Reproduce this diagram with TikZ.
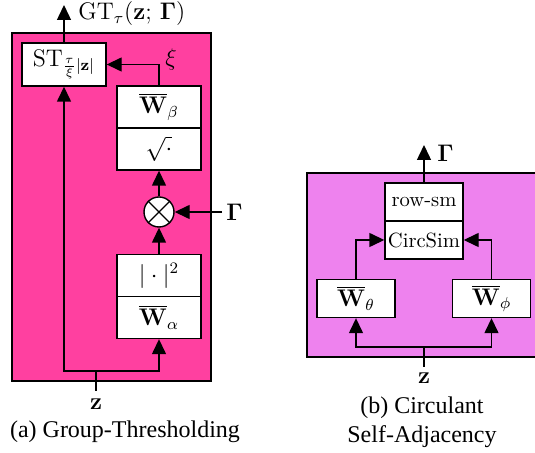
\documentclass[tikz,border=0pt]{standalone}
\usepackage[no-math]{fontspec}
\newfontfamily\capfont{Liberation Serif}
\usetikzlibrary{arrows.meta}
\definecolor{panelA}{RGB}{255,64,160}
\definecolor{panelB}{RGB}{238,130,238}
\begin{document}
\begin{tikzpicture}[x=0.5pt,y=-0.5pt,
  lw/.style={line width=0.7pt},
  mfont/.style={font=\fontsize{11.5}{13}\selectfont},
  blk/.style={draw,lw,fill=white,minimum width=42pt,minimum height=21pt,inner sep=0pt,mfont},
  blkb/.style={draw,lw,fill=white,minimum width=39pt,minimum height=19pt,inner sep=0pt,mfont},
  tblk/.style={blkb,font=\fontsize{10.3}{12}\selectfont},
  conn/.style={lw,-{Triangle[length=7.5pt,width=7pt]}},
  wire/.style={lw},
  captext/.style={font=\capfont\fontsize{12}{14.5}\selectfont,align=center,inner sep=0pt}]
\useasboundingbox (0,0) rectangle (535,453);
% panel (a)
\draw[lw,fill=panelA] (12,33) rectangle (211,381);
\node[blk,minimum height=21.5pt] (st) at (64,64.5) {$\mathrm{ST}_{\frac{\tau}{\xi}|\mathbf{z}|}$};
\node[blk] (wb) at (159,107) {$\overline{\mathbf{W}}_\beta$};
\node[blk] (sq) at (159,149) {$\sqrt{\cdot}$};
\node[draw,lw,fill=white,circle,minimum size=15pt,inner sep=0pt] (mul) at (159,212) {};
\draw[lw] (mul.north east) -- (mul.south west) (mul.north west) -- (mul.south east);
\node[blk] (ab) at (159,275.5) {$|\cdot|^2$};
\node[blk] (wa) at (159,317.5) {$\overline{\mathbf{W}}_\alpha$};
\coordinate (gtend) at (64,5);
\coordinate (gin) at (222,212);
\coordinate (zin) at (96,391);
\coordinate (zj) at (96,371);
\coordinate (bl) at (64,371);
\coordinate (br) at (159,371);
\draw[conn] (st.north) -- (gtend);
\node[anchor=west,inner sep=0pt,mfont] (gtl) at (78,14) {$\mathrm{GT}_\tau(\mathbf{z};\,\mathbf{\Gamma})$};
\draw[conn] (wb.north) |- (st.east);
\node[mfont] (xil) at (171,60) {$\xi$};
\draw[conn] (mul.north) -- (sq.south);
\draw[conn] (gin) -- (mul.east);
\node[anchor=west,inner sep=0pt,mfont] (gl) at (226,212) {$\mathbf{\Gamma}$};
\draw[conn] (ab.north) -- (mul.south);
\draw[wire] (zin) -- (zj);
\draw[conn] (zj) -- (bl) -- (st.south);
\draw[conn] (zj) -- (br) -- (wa.south);
\node[mfont] (zl) at (96,404) {$\mathbf{z}$};
\node[captext] (capa) at (125,432) {(a) Group-Thresholding};
% panel (b)
\draw[lw,fill=panelB] (307,173) rectangle (545,357);
\node[tblk] (rs) at (424,202) {row-sm};
\node[tblk] (cs) at (424,240) {CircSim};
\node[blkb] (wt) at (356,298.5) {$\overline{\mathbf{W}}_\theta$};
\node[blkb] (wp) at (491.5,298.5) {$\overline{\mathbf{W}}_\phi$};
\coordinate (gend) at (424,145);
\coordinate (zin2) at (424,367);
\coordinate (zj2) at (424,347);
\coordinate (bl2) at (356,347);
\coordinate (br2) at (491.5,347);
\draw[conn] (rs.north) -- (gend);
\node[anchor=west,inner sep=0pt,mfont] (gl2) at (437,153) {$\mathbf{\Gamma}$};
\draw[conn] (wt.north) |- (cs.west);
\draw[conn] (wp.north) |- (cs.east);
\draw[wire] (zin2) -- (zj2);
\draw[conn] (zj2) -- (bl2) -- (wt.south);
\draw[conn] (zj2) -- (br2) -- (wp.south);
\node[mfont] (zl2) at (424,378) {$\mathbf{z}$};
\node[captext] (capb) at (422,422) {(b) Circulant\\Self-Adjacency};
\end{tikzpicture}
\end{document}
